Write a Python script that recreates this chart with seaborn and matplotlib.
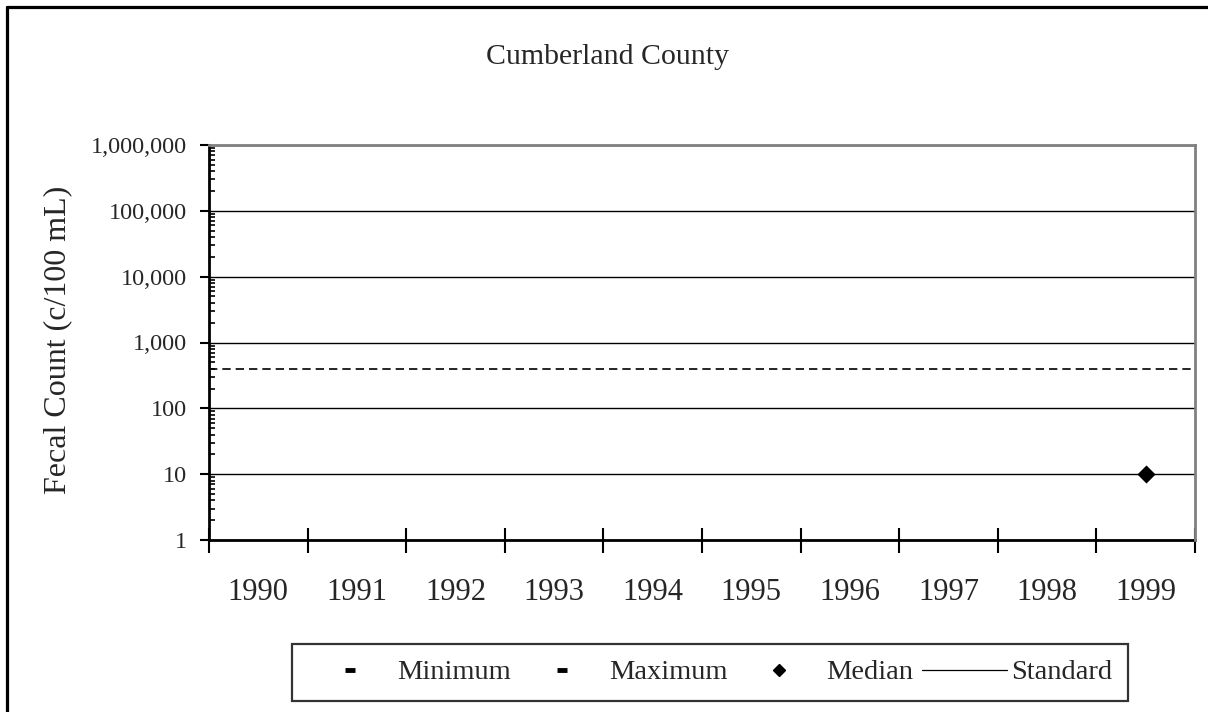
import matplotlib
matplotlib.use("Agg")
import matplotlib.pyplot as plt
import seaborn as sns
import numpy as np
import pandas as pd
from matplotlib.ticker import FixedLocator, FuncFormatter, NullFormatter, LogLocator
from matplotlib.lines import Line2D

# ---- data ----
years = ["1990", "1991", "1992", "1993", "1994", "1995", "1996", "1997", "1998", "1999"]
minimum = [np.nan, np.nan, np.nan, np.nan, np.nan, np.nan, np.nan, np.nan, np.nan, 10]
maximum = [np.nan, np.nan, np.nan, np.nan, np.nan, np.nan, np.nan, np.nan, np.nan, 10]
median = [np.nan, np.nan, np.nan, np.nan, np.nan, np.nan, np.nan, np.nan, np.nan, 10]
standard = 400
title = "Cumberland County"
ylabel = "Fecal Count (c/100 mL)"
yticks = [1, 10, 100, 1000, 10000, 100000, 1000000]

df = pd.DataFrame({"Year": years, "Minimum": minimum, "Maximum": maximum, "Median": median})

sns.set_style("ticks")
plt.rcParams["font.family"] = ["Liberation Serif", "DejaVu Serif"]

W, H = 1208, 712
fig = plt.figure(figsize=(W / 100, H / 100), dpi=100)
ax = fig.add_axes([209 / W, 1 - 540 / H, (1195 - 209) / W, (540 - 145) / H])

ax.set_yscale("log")

# gridlines
ax.yaxis.grid(True, which="major", color="black", linewidth=1.0)
ax.set_axisbelow(True)

# standard line
ax.axhline(standard, color="black", linewidth=1.2, linestyle=(0, (5, 3)), zorder=2)

# min / max dashes and median diamond
sns.scatterplot(data=df, x="Year", y="Minimum", marker="_", s=60, linewidth=3,
                color="black", ax=ax, zorder=3, legend=False)
sns.scatterplot(data=df, x="Year", y="Maximum", marker="_", s=60, linewidth=3,
                color="black", ax=ax, zorder=3, legend=False)
sns.scatterplot(data=df, x="Year", y="Median", marker="D", s=85, linewidth=0,
                color="black", ax=ax, zorder=4, legend=False)

ax.set_ylim(1, 1000000)
ax.set_xlim(-0.5, len(years) - 0.5)

# y ticks
ax.yaxis.set_major_locator(FixedLocator(yticks))
ax.yaxis.set_major_formatter(FuncFormatter(lambda v, p: f"{int(round(v)):,}"))
ax.yaxis.set_minor_locator(LogLocator(base=10, subs=np.arange(2, 10)))
ax.yaxis.set_minor_formatter(NullFormatter())
ax.tick_params(axis="y", which="major", direction="out", length=6.5, width=1.5,
               pad=9, labelsize=17.5, color="black")
ax.tick_params(axis="y", which="minor", direction="in", length=4, width=1.2, color="black")

# x ticks: boundaries as major ticks, labels at category centres
ax.xaxis.set_major_locator(FixedLocator(np.arange(-0.5, len(years), 1.0)))
ax.xaxis.set_major_formatter(NullFormatter())
ax.xaxis.set_minor_locator(FixedLocator(np.arange(len(years))))
ax.xaxis.set_minor_formatter(FuncFormatter(lambda v, p: years[int(round(v))]))
ax.tick_params(axis="x", which="major", direction="inout", length=18, width=1.5, color="black")
ax.tick_params(axis="x", which="minor", length=0, pad=27, labelsize=22)

ax.set_xlabel("")
ax.set_ylabel("")

for side in ["left", "bottom"]:
    ax.spines[side].set_color("black")
    ax.spines[side].set_linewidth(2)
for side in ["top", "right"]:
    ax.spines[side].set_color("#808080")
    ax.spines[side].set_linewidth(2)
    ax.spines[side].set_zorder(5)

# texts
fig.text(608 / W, 1 - 57 / H, title, ha="center", va="center", fontsize=21.5)
fig.text(58 / W, 1 - 340 / H, ylabel, ha="center", va="center", rotation=90, fontsize=23)

# legend
handles = [
    Line2D([], [], marker="_", markersize=7, markeredgewidth=3.5, color="black", linestyle="none"),
    Line2D([], [], marker="_", markersize=7, markeredgewidth=3.5, color="black", linestyle="none"),
    Line2D([], [], marker="D", markersize=6.5, color="black", linestyle="none"),
    Line2D([], [], color="black", linewidth=0.9),
]
labels = ["Minimum", "Maximum", "Median", "Standard"]
leg = fig.legend(handles, labels, loc="center", bbox_to_anchor=(710 / W, 1 - 672.5 / H),
                 ncol=4, frameon=True, fancybox=False, fontsize=20.5, handlelength=3.0,
                 handletextpad=0.15, columnspacing=0.3, borderpad=0.55, borderaxespad=0)
leg.get_frame().set_edgecolor("black")
leg.get_frame().set_linewidth(1.6)
leg.get_frame().set_facecolor("white")

# outer frame (left and top edges visible)
fig.add_artist(Line2D([7 / W, 7 / W], [0, 1 - 7 / H], transform=fig.transFigure,
                      color="black", linewidth=2.3))
fig.add_artist(Line2D([7 / W, 1.0], [1 - 7 / H, 1 - 7 / H], transform=fig.transFigure,
                      color="black", linewidth=2.3))

fig.savefig("out.png", dpi=100, facecolor="white")
